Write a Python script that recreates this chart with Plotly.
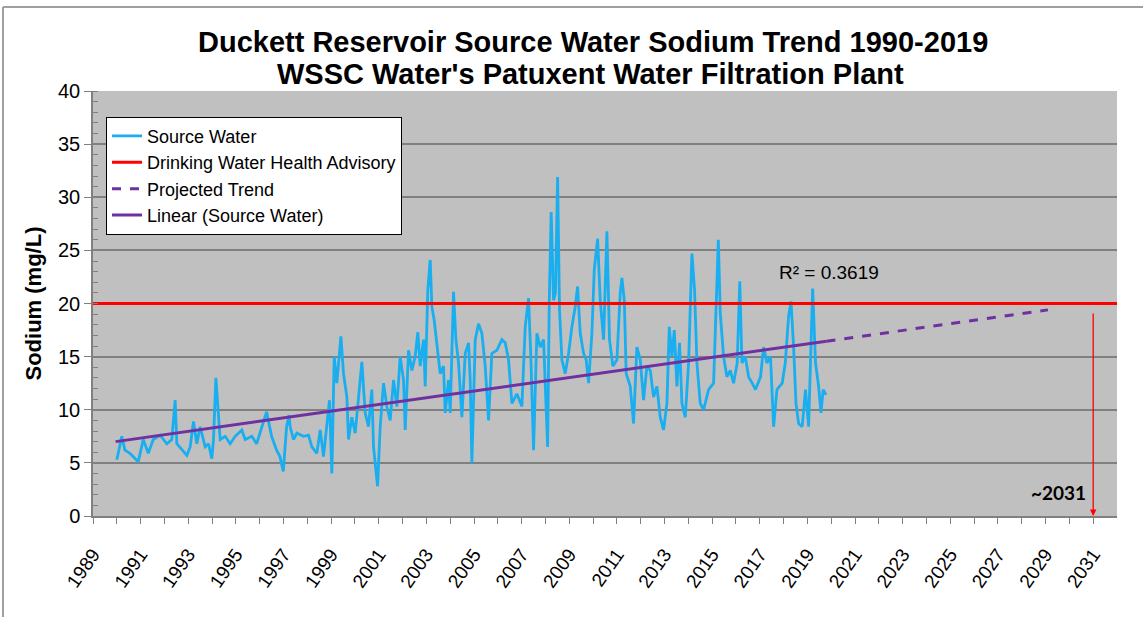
import plotly.graph_objects as go

# ---- data ----
src_years = [1990.00, 1990.21, 1990.34, 1990.55, 1990.90, 1991.11, 1991.32, 1991.53, 1991.82, 1992.10,
             1992.31, 1992.45, 1992.52, 1992.73, 1992.94, 1993.08, 1993.22, 1993.36, 1993.50, 1993.71,
             1993.85, 1993.99, 1994.06, 1994.16, 1994.27, 1994.34, 1994.55, 1994.76, 1994.97, 1995.25,
             1995.39, 1995.67, 1995.87, 1996.08, 1996.29, 1996.50, 1996.71, 1996.85, 1996.99, 1997.13,
             1997.23, 1997.28, 1997.42, 1997.56, 1997.84, 1998.05, 1998.19, 1998.40, 1998.54, 1998.68,
             1998.82, 1998.93, 1999.03, 1999.13, 1999.24, 1999.41, 1999.52, 1999.66, 1999.73, 1999.87,
             2000.01, 2000.15, 2000.29, 2000.43, 2000.57, 2000.71, 2000.78, 2000.95, 2001.06, 2001.20,
             2001.34, 2001.48, 2001.62, 2001.76, 2001.90, 2002.04, 2002.11, 2002.25, 2002.39, 2002.53,
             2002.64, 2002.74, 2002.88, 2002.95, 2003.06, 2003.16, 2003.23, 2003.33, 2003.44, 2003.58,
             2003.72, 2003.79, 2003.93, 2004.00, 2004.14, 2004.24, 2004.35, 2004.49, 2004.63, 2004.77,
             2004.84, 2004.91, 2005.05, 2005.19, 2005.33, 2005.47, 2005.61, 2005.75, 2005.96, 2006.17,
             2006.31, 2006.45, 2006.59, 2006.80, 2007.01, 2007.15, 2007.29, 2007.39, 2007.50, 2007.64,
             2007.78, 2007.92, 2008.09, 2008.16, 2008.24, 2008.34, 2008.42, 2008.51, 2008.59, 2008.69,
             2008.83, 2008.97, 2009.11, 2009.25, 2009.35, 2009.46, 2009.60, 2009.71, 2009.81, 2009.95,
             2010.05, 2010.19, 2010.30, 2010.44, 2010.58, 2010.69, 2010.83, 2011.00, 2011.14, 2011.21,
             2011.31, 2011.39, 2011.56, 2011.70, 2011.84, 2011.98, 2012.12, 2012.26, 2012.40, 2012.54,
             2012.68, 2012.82, 2012.96, 2013.10, 2013.20, 2013.31, 2013.41, 2013.52, 2013.63, 2013.73,
             2013.87, 2014.01, 2014.15, 2014.26, 2014.36, 2014.50, 2014.64, 2014.85, 2015.06, 2015.18,
             2015.26, 2015.34, 2015.48, 2015.62, 2015.76, 2015.90, 2016.05, 2016.16, 2016.25, 2016.39,
             2016.53, 2016.68, 2016.82, 2017.03, 2017.16, 2017.30, 2017.45, 2017.58, 2017.72, 2017.94,
             2018.07, 2018.21, 2018.31, 2018.42, 2018.52, 2018.63, 2018.78, 2018.92, 2019.05, 2019.22,
             2019.34, 2019.47, 2019.57, 2019.66, 2019.78]
src_vals = [5.3, 7.5, 6.2, 5.9, 5.1, 7.2, 5.9, 7.2, 7.6, 6.8,
            7.2, 10.9, 6.8, 6.2, 5.7, 6.5, 8.9, 6.8, 8.4, 6.5,
            6.8, 5.4, 7.2, 13.0, 9.3, 7.2, 7.5, 6.8, 7.5, 8.1,
            7.2, 7.5, 6.8, 8.4, 9.8, 7.5, 6.2, 5.6, 4.2, 8.4,
            9.5, 8.4, 7.2, 7.8, 7.5, 7.6, 6.5, 5.9, 8.1, 5.6,
            8.4, 10.9, 4.0, 15.0, 12.5, 16.9, 13.4, 11.2, 7.2, 9.3,
            7.8, 11.2, 14.5, 9.7, 8.4, 11.9, 6.5, 2.8, 8.4, 12.5,
            10.3, 9.0, 12.8, 10.3, 15.0, 12.8, 8.1, 15.6, 13.7, 15.0,
            17.3, 14.1, 16.6, 12.2, 21.3, 24.1, 19.7, 18.4, 15.9, 13.4,
            14.1, 9.7, 12.8, 9.7, 21.1, 16.6, 14.4, 9.3, 15.3, 16.3,
            12.8, 5.0, 16.6, 18.1, 17.2, 14.1, 9.0, 15.3, 15.6, 16.6,
            16.3, 14.7, 10.6, 11.5, 10.3, 17.8, 20.5, 14.7, 6.2, 17.2,
            15.9, 16.6, 6.5, 20.3, 28.6, 20.3, 21.0, 31.9, 19.4, 14.7,
            13.4, 15.3, 17.8, 19.7, 21.6, 17.2, 15.3, 14.7, 12.5, 17.2,
            23.2, 26.1, 20.3, 16.6, 26.8, 16.6, 14.1, 14.7, 21.0, 22.4,
            20.3, 13.4, 12.2, 8.7, 15.9, 14.7, 10.9, 14.1, 13.7, 11.2,
            12.2, 9.3, 8.1, 10.6, 17.8, 15.0, 17.5, 12.2, 16.3, 10.6,
            9.3, 14.4, 24.7, 21.3, 14.4, 10.6, 10.0, 11.9, 12.5, 20.6,
            26.0, 19.1, 15.0, 13.1, 13.7, 12.5, 14.4, 22.1, 14.4, 15.0,
            13.1, 12.5, 11.9, 13.1, 15.9, 14.4, 15.0, 8.4, 11.9, 12.5,
            14.4, 18.8, 20.2, 15.9, 10.6, 8.7, 8.4, 11.9, 8.4, 21.4,
            14.4, 12.2, 9.7, 11.9, 11.4]

advisory_years = [1989, 2032]
advisory_vals = [20, 20]

linear_years = [1989.95, 2019.8]
linear_vals = [7.0, 16.45]

projected_years = [2019.8, 2029.1]
projected_vals = [16.45, 19.4]

title_lines = ["Duckett Reservoir Source Water Sodium Trend 1990-2019",
               "WSSC Water's Patuxent Water Filtration Plant"]
r2_label = "R² = 0.3619"
r2_pos = (2019.9, 22.9)
target_year = 2031
target_top = 19.2
target_label = "~2031"

x_tick_years = list(range(1989, 2032))
x_tick_labels = [str(y) if y % 2 == 1 else "" for y in x_tick_years]

FONT = "Liberation Sans, Arial, sans-serif"
BLUE = "#19AEEF"
PURPLE = "#7030A0"
RED = "#FF0000"

fig = go.Figure()
fig.add_trace(go.Scatter(x=src_years, y=src_vals, mode="lines", name="Source Water",
                         line=dict(color=BLUE, width=2.8)))
fig.add_trace(go.Scatter(x=advisory_years, y=advisory_vals, mode="lines",
                         name="Drinking Water Health Advisory", line=dict(color=RED, width=3)))
fig.add_trace(go.Scatter(x=projected_years, y=projected_vals, mode="lines", name="Projected Trend",
                         line=dict(color=PURPLE, width=3, dash="dash")))
fig.add_trace(go.Scatter(x=linear_years, y=linear_vals, mode="lines", name="Linear (Source Water)",
                         line=dict(color=PURPLE, width=3)))

fig.update_layout(
    width=1143, height=617,
    margin=dict(l=93, r=26, t=91, b=101),
    paper_bgcolor="white", plot_bgcolor="#C0C0C0",
    font=dict(family=FONT, color="black"),
    showlegend=True,
    legend=dict(x=0.0127, y=0.9395, xanchor="left", yanchor="top",
                bgcolor="white", bordercolor="black", borderwidth=1,
                font=dict(size=18, family=FONT, color="black")),
)

fig.update_xaxes(range=[1989, 2032], tickmode="array", tickvals=x_tick_years, ticktext=x_tick_labels,
                 tickangle=-55, ticks="outside", ticklen=6, tickcolor="#808080",
                 ticklabelstandoff=12,
                 tickfont=dict(size=19, family=FONT, color="black"),
                 showgrid=False, zeroline=False, showline=True, linecolor="#808080", linewidth=1.5)
fig.update_yaxes(range=[0, 40], dtick=5, tick0=0, ticks="outside", ticklen=7, tickcolor="#808080",
                 tickfont=dict(size=20, family=FONT, color="black"),
                 showgrid=True, gridcolor="#808080", gridwidth=1.5, zeroline=False,
                 showline=True, linecolor="#808080", linewidth=1.5,
                 minor=dict(dtick=1, ticks="inside", ticklen=5, tickcolor="#808080", showgrid=False),
                 title=dict(text="<b>Sodium (mg/L)</b>", standoff=10,
                            font=dict(size=22, family=FONT, color="black")))

# two-line chart title
fig.add_annotation(x=0.488, y=1.1153, xref="paper", yref="paper", xanchor="center", yanchor="middle",
                   text="<b>" + title_lines[0] + "</b>", showarrow=False,
                   font=dict(size=29, family=FONT, color="black"))
fig.add_annotation(x=0.486, y=1.040, xref="paper", yref="paper", xanchor="center", yanchor="middle",
                   text="<b>" + title_lines[1] + "</b>", showarrow=False,
                   font=dict(size=29, family=FONT, color="black"))

fig.add_annotation(x=r2_pos[0], y=r2_pos[1], xref="x", yref="y", text=r2_label, showarrow=False,
                   font=dict(size=19, family=FONT, color="black"))
fig.add_annotation(x=target_year, y=0, xref="x", yref="y", ax=target_year, ay=target_top,
                   axref="x", ayref="y", text="", showarrow=True, arrowhead=2, arrowsize=1,
                   arrowwidth=1.3, arrowcolor=RED)
fig.add_annotation(x=target_year - 0.2, y=2.2, xref="x", yref="y", xanchor="right",
                   text="<b>" + target_label + "</b>", showarrow=False,
                   font=dict(size=19, family="Lato, Carlito, sans-serif", color="black"))

# outer chart frame (top and left edges visible)
fig.add_shape(type="line", xref="paper", yref="paper", x0=-0.0879, x1=1.03, y0=1.1976, y1=1.1976,
              line=dict(color="#A0A0A0", width=2))
fig.add_shape(type="line", xref="paper", yref="paper", x0=-0.0879, x1=-0.0879, y0=1.1976, y1=-0.24,
              line=dict(color="#A0A0A0", width=2))

fig.write_html("out.html", config={"displayModeBar": False},
               post_script="document.body.style.margin='0';")
